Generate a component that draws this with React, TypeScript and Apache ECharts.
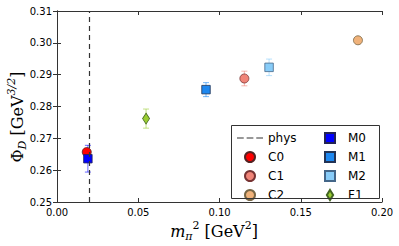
import React, { useEffect, useRef } from "react";
import * as echarts from "echarts";

const xTicks = [0, 0.05, 0.1, 0.15, 0.2];
const yTicks = [0.25, 0.26, 0.27, 0.28, 0.29, 0.3, 0.31];
const physX = 0.0183;

const names = ["C0", "C1", "C2", "M0", "M1", "M2", "F1"];
const xs = [0.0183, 0.1153, 0.1852, 0.019, 0.0917, 0.1305, 0.0548];
const ys = [0.2657, 0.2888, 0.3008, 0.2636, 0.2853, 0.2923, 0.2762];
const errs = [0.001, 0.0023, 0.001, 0.0042, 0.0022, 0.0026, 0.003];
const colors = ["#ff0000", "#f08478", "#f0b27a", "#0000ff", "#1e88f0", "#88ccf8", "#9acd32"];
const edges = ["#552222", "#773333", "#776644", "#222255", "#223355", "#446688", "#446622"];
const SQ = "path://M0,0H10V10H0Z";
const DIA = "path://M5,0L10,8L5,16L0,8Z";
const shapes = ["circle", "circle", "circle", SQ, SQ, SQ, DIA];
const zs = [3, 3, 3, 4, 4, 4, 4];

export default function App() {
  const ref = useRef<HTMLDivElement>(null);
  useEffect(() => {
    if (!ref.current) return;
    const chart = echarts.init(ref.current, null, { renderer: "svg" });
    const axisLine = { show: true, lineStyle: { color: "#333", width: 1 } };
    const series: any[] = [];
    names.forEach((n, i) => {
      series.push({
        type: "custom",
        name: n + "_err",
        z: zs[i] - 1,
        silent: true,
        data: [[xs[i], ys[i], errs[i]]],
        renderItem: (params: any, api: any) => {
          const x = api.value(0), y = api.value(1), e = api.value(2);
          const top = api.coord([x, y + e]);
          const bot = api.coord([x, y - e]);
          const st = { stroke: colors[i], lineWidth: 1, opacity: 0.6 };
          return {
            type: "group",
            children: [
              { type: "line", shape: { x1: top[0], y1: top[1], x2: bot[0], y2: bot[1] }, style: st },
              { type: "line", shape: { x1: top[0] - 3, y1: top[1], x2: top[0] + 3, y2: top[1] }, style: st },
              { type: "line", shape: { x1: bot[0] - 3, y1: bot[1], x2: bot[0] + 3, y2: bot[1] }, style: st },
            ],
          };
        },
      });
      series.push({
        type: "scatter",
        name: n,
        z: zs[i],
        symbol: shapes[i],
        symbolSize: i === 6 ? [7, 11] : i >= 3 ? 8.5 : 9,
        itemStyle: { color: colors[i], borderColor: edges[i], borderWidth: 0.8, opacity: 1 },
        data: [[xs[i], ys[i]]],
      });
    });
    series.push({
      type: "line",
      name: "phys",
      data: [],
      symbol: "none",
      lineStyle: { color: "#333", type: [5, 4], width: 1.2 },
      itemStyle: { color: "#333" },
      markLine: {
        silent: true,
        symbol: "none",
        label: { show: false },
        lineStyle: { color: "#333", type: [5, 4], width: 1.2 },
        data: [{ xAxis: physX }],
      },
    });
    const legendCommon = {
      orient: "vertical",
      itemGap: 7,
      itemWidth: 26,
      itemHeight: 10,
      textStyle: { fontFamily: "DejaVu Sans", fontSize: 12, color: "#000" },
      selectedMode: false,
    };
    const axisCommon = {
      axisLine, splitLine: { show: false },
      axisTick: { inside: true, length: 4, lineStyle: { color: "#333" } },
    };
    const labelStyle = { fontFamily: "DejaVu Sans", fontSize: 10, color: "#000", margin: 5, formatter: (v: number) => v.toFixed(2) };
    const option: any = {
      animation: false,
      grid: { left: 57, right: 17, top: 11, bottom: 44 },
      xAxis: [
        { type: "value", min: xTicks[0], max: xTicks[xTicks.length - 1], interval: 0.05, ...axisCommon, axisLabel: labelStyle },
        { type: "value", min: xTicks[0], max: xTicks[xTicks.length - 1], interval: 0.05, position: "top", ...axisCommon, axisLabel: { show: false } },
      ],
      yAxis: [
        { type: "value", min: yTicks[0], max: yTicks[yTicks.length - 1], interval: 0.01, ...axisCommon, axisLabel: labelStyle },
        { type: "value", min: yTicks[0], max: yTicks[yTicks.length - 1], interval: 0.01, position: "right", ...axisCommon, axisLabel: { show: false } },
      ],
      legend: [
        {
          ...legendCommon, left: 232, top: 127,
          data: [
            { name: "phys", icon: "path://M0,0H7V1H0Z M10,0H17V1H10Z M20,0H27V1H20Z" },
            { name: "C0", icon: "circle" },
            { name: "C1", icon: "circle" },
            { name: "C2", icon: "circle" },
          ],
        },
        {
          ...legendCommon, left: 319, top: 127,
          data: [
            { name: "M0", icon: SQ },
            { name: "M1", icon: SQ },
            { name: "M2", icon: SQ },
            { name: "F1", icon: DIA },
          ],
        },
      ],
      graphic: [
        {
          type: "rect", left: 229, top: 123, z: 100, silent: true,
          shape: { width: 148, height: 73 },
          style: { fill: "none", stroke: "#333", lineWidth: 1 },
        },
        {
          type: "text", x: 17, y: 117, rotation: Math.PI / 2,
          style: {
            text: "{a|Φ}{s|D}{a| [GeV}{p|3/2}{a|]}",
            textAlign: "center", textVerticalAlign: "middle",
            rich: {
              a: { fontFamily: "DejaVu Serif", fontSize: 16, fill: "#000", lineHeight: 22 },
              s: { fontFamily: "DejaVu Serif", fontStyle: "italic", fontSize: 11, fill: "#000", lineHeight: 14, verticalAlign: "bottom" },
              p: { fontFamily: "DejaVu Serif", fontStyle: "italic", fontSize: 11, fill: "#000", lineHeight: 14, verticalAlign: "top" },
            },
          },
        },
        {
          type: "text", x: 214, y: 231,
          style: {
            text: "{m|m}{s|π}{p|2}{a| [GeV}{p|2}{a|]}",
            textAlign: "center", textVerticalAlign: "middle",
            rich: {
              a: { fontFamily: "DejaVu Serif", fontSize: 16, fill: "#000", lineHeight: 22 },
              m: { fontFamily: "DejaVu Serif", fontStyle: "italic", fontSize: 16, fill: "#000", lineHeight: 22 },
              s: { fontFamily: "DejaVu Serif", fontStyle: "italic", fontSize: 11, fill: "#000", lineHeight: 14, verticalAlign: "bottom" },
              p: { fontFamily: "DejaVu Serif", fontSize: 11, fill: "#000", lineHeight: 14, verticalAlign: "top" },
            },
          },
        },
      ],
      series,
    };
    chart.setOption(option);
    return () => chart.dispose();
  }, []);
  return <div ref={ref} style={{ width: 399, height: 246, position: "absolute", left: 0, top: 0 }} />;
}
